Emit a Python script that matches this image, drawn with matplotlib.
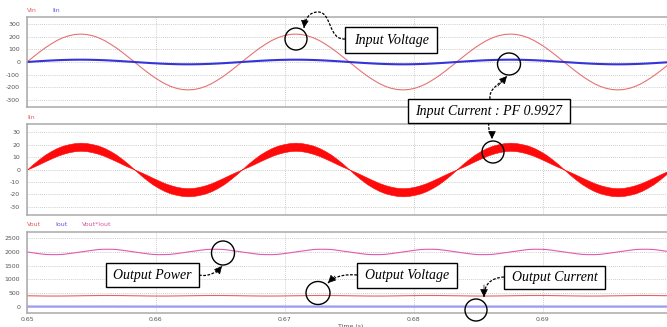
import numpy as np
import matplotlib
matplotlib.use("Agg")
import matplotlib.pyplot as plt
from matplotlib.patches import Rectangle, Ellipse, PathPatch, FancyArrowPatch
from matplotlib.path import Path

plt.rcParams["axes.unicode_minus"] = False

# steady-state samples, 10 degree steps of the 60 Hz line
t_start, t_end = 0.65, 0.70

vin_cycle = [0, 38, 75, 110, 141, 169, 191, 207, 217, 220, 217, 207, 191, 169, 141, 110, 75, 38,
             0, -38, -75, -110, -141, -169, -191, -207, -217, -220, -217, -207, -191, -169, -141, -110, -75, -38]
iin_avg_cycle = [0, 3.2, 6.2, 9.1, 11.7, 14.0, 15.8, 17.1, 18.0, 18.3, 18.0, 17.1, 15.8, 14.0, 11.7, 9.1, 6.2, 3.2,
                 0, -3.2, -6.2, -9.1, -11.7, -14.0, -15.8, -17.1, -18.0, -18.3, -18.0, -17.1, -15.8, -14.0, -11.7, -9.1, -6.2, -3.2]
# switching ripple envelope of the inductor current
iin_hi_cycle = [0, 4.3, 8.2, 11.8, 14.7, 17.2, 19.1, 20.3, 21.2, 21.5, 21.2, 20.3, 19.1, 17.2, 14.7, 11.8, 8.2, 4.3,
                0, -2.0, -4.2, -6.5, -8.7, -10.8, -12.5, -13.8, -14.7, -15.0, -14.7, -13.8, -12.5, -10.8, -8.7, -6.5, -4.2, -2.0]
iin_lo_cycle = [0, 2.0, 4.2, 6.5, 8.7, 10.8, 12.5, 13.8, 14.7, 15.0, 14.7, 13.8, 12.5, 10.8, 8.7, 6.5, 4.2, 2.0,
                0, -4.3, -8.2, -11.8, -14.7, -17.2, -19.1, -20.3, -21.2, -21.5, -21.2, -20.3, -19.1, -17.2, -14.7, -11.8, -8.2, -4.3]
# output side ripples at twice line frequency
vout_half = [400, 397, 394, 391, 390, 390, 391, 394, 397, 400, 403, 406, 409, 410, 410, 409, 406, 403]
iout_half = [5.00, 4.96, 4.92, 4.89, 4.88, 4.88, 4.89, 4.92, 4.96, 5.00, 5.04, 5.08, 5.11, 5.12, 5.12, 5.11, 5.08, 5.04]

vin = np.array(vin_cycle * 3 + [vin_cycle[0]])
iin_avg = np.array(iin_avg_cycle * 3 + [iin_avg_cycle[0]])
iin_hi = np.array(iin_hi_cycle * 3 + [iin_hi_cycle[0]])
iin_lo = np.array(iin_lo_cycle * 3 + [iin_lo_cycle[0]])
vout = np.array(vout_half * 6 + [vout_half[0]])
iout = np.array(iout_half * 6 + [iout_half[0]])
pout = vout * iout
t = np.linspace(t_start, t_end, len(vin))

W, H = 667, 327
fig = plt.figure(figsize=(W / 100, H / 100), dpi=100)


def px_rect(x0, y0, x1, y1):
    return [x0 / W, 1 - y1 / H, (x1 - x0) / W, (y1 - y0) / H]


def scope_axes(rect, ylim, yticks):
    ax = fig.add_axes(px_rect(*rect))
    ax.set_xlim(t_start, t_start + (rect[2] - rect[0]) / 12890)
    ax.set_ylim(*ylim)
    ax.set_yticks(yticks)
    ax.set_xticks([0.65, 0.66, 0.67, 0.68, 0.69, 0.70])
    ax.grid(True, color="#bdbdbd", lw=0.6, ls=(0, (1, 1.5)))
    ax.set_axisbelow(True)
    for s in ax.spines.values():
        s.set_color("#a9a9a9")
        s.set_linewidth(1.1)
    ax.spines["right"].set_visible(False)
    ax.tick_params(length=0, labelsize=4.5, labelcolor="#555555", pad=5)
    ax.tick_params(axis="x", pad=3)
    return ax


ax1 = scope_axes((27, 17, 675, 107), (-355, 355), range(-300, 301, 100))
ax1.plot(t, vin, color="#e57373", lw=0.8)
ax1.plot(t, iin_avg, color="#3434d8", lw=1.5)
ax1.set_xticklabels([])

ax2 = scope_axes((27, 124, 675, 215), (-36.5, 36.5), range(-30, 31, 10))
ax2.fill_between(t, iin_lo, iin_hi, color="#ff0a0a", lw=0.4)
ax2.set_xticklabels([])

ax3 = scope_axes((27, 232, 675, 313), (-230, 2730), range(0, 2501, 500))
ax3.plot(t, pout, color="#e25aae", lw=0.8)
ax3.plot(t, vout, color="#e36464", lw=0.8)
ax3.plot(t, iout, color="#9c9cf2", lw=1.6)
ax3.set_xticklabels(["0.65", "0.66", "0.67", "0.68", "0.69", "0.7"])
ax3.set_xlabel("Time (s)", fontsize=4.5, color="#555555", labelpad=1)

# trace names above each scope window
for x, y, name, col in [(27, 10, "Vin", "#e55b5b"), (52, 10, "Iin", "#5a5ae0"),
                        (27, 117, "Iin", "#e55b5b"),
                        (27, 225, "Vout", "#e55b5b"), (55, 225, "Iout", "#5a5ae0"),
                        (82, 225, "Vout*Iout", "#e04fa8")]:
    fig.text(x / W, 1 - y / H, name, color=col, fontsize=4.5, va="center")

# caption running off the top edge
fig.text(155 / W, 1 + 4 / H, "(c)  Simulation results at rated voltage",
         family="Liberation Serif", fontsize=13, va="baseline")

# callouts drawn in pixel space
ov = fig.add_axes([0, 0, 1, 1])
ov.set_xlim(0, W)
ov.set_ylim(H, 0)
ov.axis("off")

serif = dict(family="Liberation Serif", style="italic", fontsize=10)

boxes = [((345, 27, 437, 53), "Input Voltage"),
         ((408, 99, 570, 123), "Input Current : PF 0.9927"),
         ((106, 263, 199, 287), "Output Power"),
         ((357, 263, 457, 288), "Output Voltage"),
         ((504, 266, 605, 289), "Output Current")]
for (x0, y0, x1, y1), label in boxes:
    ov.add_patch(Rectangle((x0, y0), x1 - x0, y1 - y0, fc="white", ec="black", lw=1.0, zorder=5))
    ov.text((x0 + x1) / 2, (y0 + y1) / 2 + 0.5, label, ha="center", va="center", zorder=6, **serif)

circles = [(296, 39, 11, 11), (509, 64, 11.5, 11), (493, 152, 11, 11),
           (223, 253, 11.5, 12), (318, 293, 12, 11.5), (476, 310, 11, 11)]
for cx, cy, rx, ry in circles:
    ov.add_patch(Ellipse((cx, cy), 2 * rx, 2 * ry, fill=False, ec="black", lw=1.0, zorder=5))

curls = [
    [(345, 39), (328, 40), (332, 12), (318, 12), (309, 12), (305, 19), (304, 28)],
    [(490, 99), (489, 88), (498, 86), (507, 76)],
    [(489, 123), (487, 130), (492, 132), (492, 139)],
    [(199, 275), (208, 277), (216, 273), (222, 266)],
    [(357, 275), (345, 274), (335, 276), (328, 283)],
    [(504, 277), (490, 278), (484, 285), (484, 297)],
]
for pts in curls:
    codes = [Path.MOVETO] + [Path.CURVE4] * (len(pts) - 1)
    ov.add_patch(PathPatch(Path(pts, codes), fill=False, ec="black", lw=0.9,
                           ls=(0, (2.2, 1.2)), zorder=5))
    ov.add_patch(FancyArrowPatch(pts[-2], pts[-1], arrowstyle="-|>,head_length=0.6,head_width=0.3",
                                 mutation_scale=8, color="black", lw=0.5, shrinkA=0, shrinkB=0, zorder=6))

fig.savefig("out.png", dpi=100)
